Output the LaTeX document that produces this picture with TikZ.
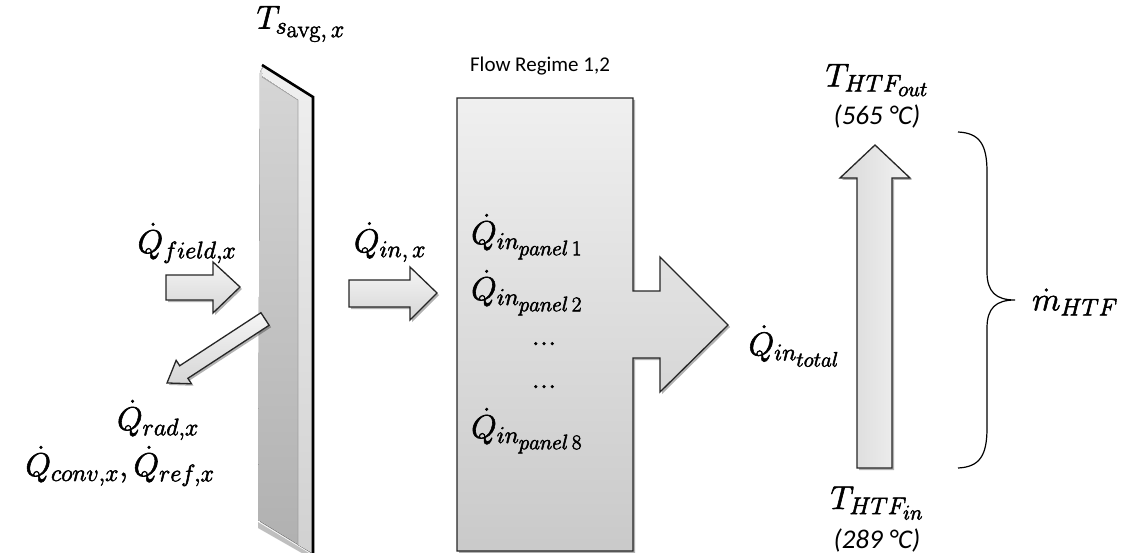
\RequirePackage{fix-cm}
\documentclass[tikz,border=0pt]{standalone}
\usepackage{fontspec}
\newfontfamily\calibri{Carlito}
\usetikzlibrary{shadows}
\DeclareMathSizes{33}{33}{24}{21}
\tikzset{
  lbl/.style={font=\fontsize{33}{38}\selectfont, inner sep=0pt,
    execute at begin node={\special{pdf:literal direct 2 Tr 0.55 w}},
    execute at end node={\special{pdf:literal direct 0 Tr}}},
  sanslbl/.style={font=\calibri\fontsize{21}{25}\selectfont, inner sep=0pt},
  templbl/.style={font=\calibri\itshape\fontsize{27}{32}\selectfont, inner sep=0pt},
  shad/.style={drop shadow={opacity=0.3, shadow xshift=2pt, shadow yshift=-2pt, fill=black}},
  blockarrow/.style={draw=black!85, line width=1.3pt, line join=miter, top color=gray!8, bottom color=gray!32, shad},
  varrow/.style={draw=black!85, line width=1.3pt, line join=miter, left color=gray!30, right color=gray!10, shad},
}
\begin{document}
\begin{tikzpicture}[x=1pt,y=-1pt]
\useasboundingbox (0,0) rectangle (1126,553);

% plate
\fill[black, opacity=0.25] (258,522) -- (314,556) -- (314,560) -- (258,528) -- cycle;
\fill[top color=gray!32, bottom color=gray!62, shad] (260,72) -- (263,66) -- (312,96) -- (312,553) -- (258,520) -- (260,72) -- cycle;
\fill[top color=gray!12, bottom color=gray!36] (262,76) -- (263,66) -- (312,96) -- (312,553) -- (298,545) -- (298,100) -- cycle;
\draw[gray!75, line width=0.6pt] (262,77) -- (298,100) -- (298,545);
\draw[black, line width=2.6pt] (262,65) -- (313,97) -- (313,560);

% incoming field arrow
\path[blockarrow] (166,275) -- (213,275) -- (213,262) -- (240,287) -- (213,313) -- (213,300) -- (166,300) -- cycle;

% outgoing losses arrow
\begin{scope}[shift={(265,319)}, rotate=213.15]
\path[blockarrow] (0,-7.5) -- (97,-7.5) -- (97,-14) -- (117,0) -- (97,14) -- (97,7.5) -- (0,7.5) -- cycle;
\end{scope}

% Q_in arrow
\path[blockarrow] (349,280) -- (410,280) -- (410,267) -- (437,293) -- (410,320) -- (410,307) -- (349,307) -- cycle;

% panel box with outgoing arrow
\path[draw=black!85, line width=1.3pt, line join=miter, top color=gray!12, bottom color=gray!42, shad]
  (457,98) -- (633,98) -- (633,291) -- (660,291) -- (660,257) -- (728,325) -- (660,392) -- (660,358) -- (633,358) -- (633,551) -- (457,551) -- cycle;

% vertical HTF arrow
\path[varrow] (857,468) -- (857,178) -- (840,178) -- (875,145) -- (910,178) -- (892,178) -- (892,468) -- cycle;

% brace
\draw[black, line width=1.2pt] (958,132) .. controls (980,133) and (987,145) .. (987,172) -- (987,272)
  .. controls (987,292) and (996,300) .. (1015,300)
  .. controls (996,300) and (987,308) .. (987,328) -- (987,428)
  .. controls (987,455) and (980,467) .. (958,468);

% labels
\node[lbl] (ts) at (301,24) {$T_{s_{\scriptstyle\mathrm{avg},\,x}}$};
\node[lbl] (qfield) at (187,243) {$\dot{Q}_{field,x}$};
\node[lbl] (qrad) at (158,420) {$\dot{Q}_{rad,x}$};
\node[lbl] (qconv) at (120,466) {$\dot{Q}_{conv,x}, \dot{Q}_{ref,x}$};
\node[lbl] (qin) at (390,242) {$\dot{Q}_{in,\,x}$};
\node[sanslbl] (flow) at (540,66) {Flow Regime 1,2};
\node[lbl, anchor=base west] (p1) at (471,244) {$\dot{Q}_{in_{panel\,1}}$};
\node[lbl, anchor=base west] (p2) at (471,300) {$\dot{Q}_{in_{panel\,2}}$};
\node[lbl, anchor=base] (d1) at (544,345) {...};
\node[lbl, anchor=base] (d2) at (544,388) {...};
\node[lbl, anchor=base west] (p8) at (471,438) {$\dot{Q}_{in_{panel\,8}}$};
\node[lbl] (qtot) at (794,346) {$\dot{Q}_{in_{total}}$};
\node[lbl] (tout) at (877,80) {$T_{HTF_{out}}$};
\node[templbl] (tout2) at (877,116) {(565 °C)};
\node[lbl] (tin) at (877,503) {$T_{HTF_{in}}$};
\node[templbl] (tin2) at (877,540) {(289 °C)};
\node[lbl] (mdot) at (1075,302) {$\dot{m}_{HTF}$};
\end{tikzpicture}
\end{document}
